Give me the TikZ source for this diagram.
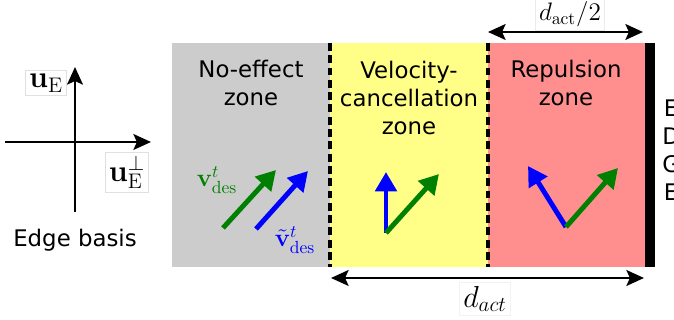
\documentclass[tikz,border=0pt]{standalone}
\usepackage[no-math]{fontspec}
\setmainfont{DejaVu Sans}
\usetikzlibrary{arrows.meta}
\definecolor{zonegray}{RGB}{204,204,204}
\definecolor{zoneyellow}{RGB}{255,255,136}
\definecolor{zonered}{RGB}{255,143,143}
\definecolor{vgreen}{RGB}{0,128,0}
\tikzset{
  zonetext/.style={align=center,font=\fontsize{13}{16}\selectfont},
  mathlabel/.style={draw=black!12,line width=0.3pt,inner sep=2pt,font=\fontsize{17}{20}\selectfont},
  vec/.style={line width=2.8pt,-{Triangle[length=11pt,width=12pt]}},
  axis/.style={line width=1.4pt,-{Stealth[length=10pt,width=9pt,inset=2pt]}},
  dimline/.style={line width=1.4pt,{Stealth[length=10pt,width=9pt,inset=2pt]}-{Stealth[length=10pt,width=9pt,inset=2pt]}},
  zoneline/.style={line width=2.3pt,dash pattern=on 4.5pt off 2.5pt}
}
\begin{document}
\begin{tikzpicture}[x=0.02cm,y=-0.02cm]
  \useasboundingbox (0,0) rectangle (674,320);
  % zones
  \fill[zonegray] (172,43) rectangle (330,267);
  \fill[zoneyellow] (330,43) rectangle (488,267);
  \fill[zonered] (488,43) rectangle (645,267);
  \fill[black] (645,43) rectangle (655,267);
  \draw[zoneline] (330,43) -- (330,267);
  \draw[zoneline] (488,43) -- (488,267);
  \node[zonetext] (noeff) at (251,83) {No-effect\\zone};
  \node[zonetext] (velc) at (409,98) {Velocity-\\cancellation\\zone};
  \node[zonetext] (rep) at (566,83) {Repulsion\\zone};
  \node[zonetext,anchor=west,inner sep=0pt] (edge) at (662,150) {E\\D\\G\\E};
  % edge basis
  \coordinate (o) at (75,142);
  \coordinate (ybot) at (75,212);
  \coordinate (ytop) at (75,67);
  \coordinate (xl) at (5,142);
  \coordinate (xr) at (151,142);
  \draw[axis] (ybot) -- (ytop);
  \draw[axis] (xl) -- (xr);
  \node[mathlabel] (ue) at (46,83) {$\mathbf{u}_{\mathrm{E}}$};
  \node[mathlabel] (uperp) at (127,172) {$\mathbf{u}_{\mathrm{E}}^{\perp}$};
  \node[zonetext] (basis) at (75,240) {Edge basis};
  % no-effect zone
  \coordinate (g1s) at (223,228);
  \coordinate (g1t) at (276,170);
  \coordinate (b1s) at (256,229);
  \coordinate (b1t) at (308,171);
  \draw[vec,vgreen] (g1s) -- (g1t);
  \draw[vec,blue] (b1s) -- (b1t);
  \node[text=vgreen,font=\Large] (vdes) at (217,180) {$\mathbf{v}_{\mathrm{des}}^{t}$};
  \node[text=blue,font=\Large] (vtdes) at (295,240) {$\tilde{\mathbf{v}}_{\mathrm{des}}^{t}$};
  % velocity-cancellation zone
  \coordinate (o2) at (386,233);
  \coordinate (b2t) at (386,172);
  \coordinate (g2t) at (439,174);
  \draw[vec,blue] (o2) -- (b2t);
  \draw[vec,vgreen] (o2) -- (g2t);
  % repulsion zone
  \coordinate (o3) at (566,227);
  \coordinate (b3t) at (528,166);
  \coordinate (g3t) at (618,168);
  \draw[vec,blue] (o3) -- (b3t);
  \draw[vec,vgreen] (o3) -- (g3t);
  % distances
  \coordinate (hl) at (488,32);
  \coordinate (hr) at (643,32);
  \draw[dimline] (hl) -- (hr);
  \node[mathlabel,draw=black!8,font=\Large] (half) at (570,14) {$d_{\mathrm{act}}/2$};
  \coordinate (dl) at (331,278);
  \coordinate (dr) at (644,278);
  \draw[dimline] (dl) -- (dr);
  \node[mathlabel,draw=black!5] (dact) at (485,299) {$d_{act}$};
\end{tikzpicture}
\end{document}
